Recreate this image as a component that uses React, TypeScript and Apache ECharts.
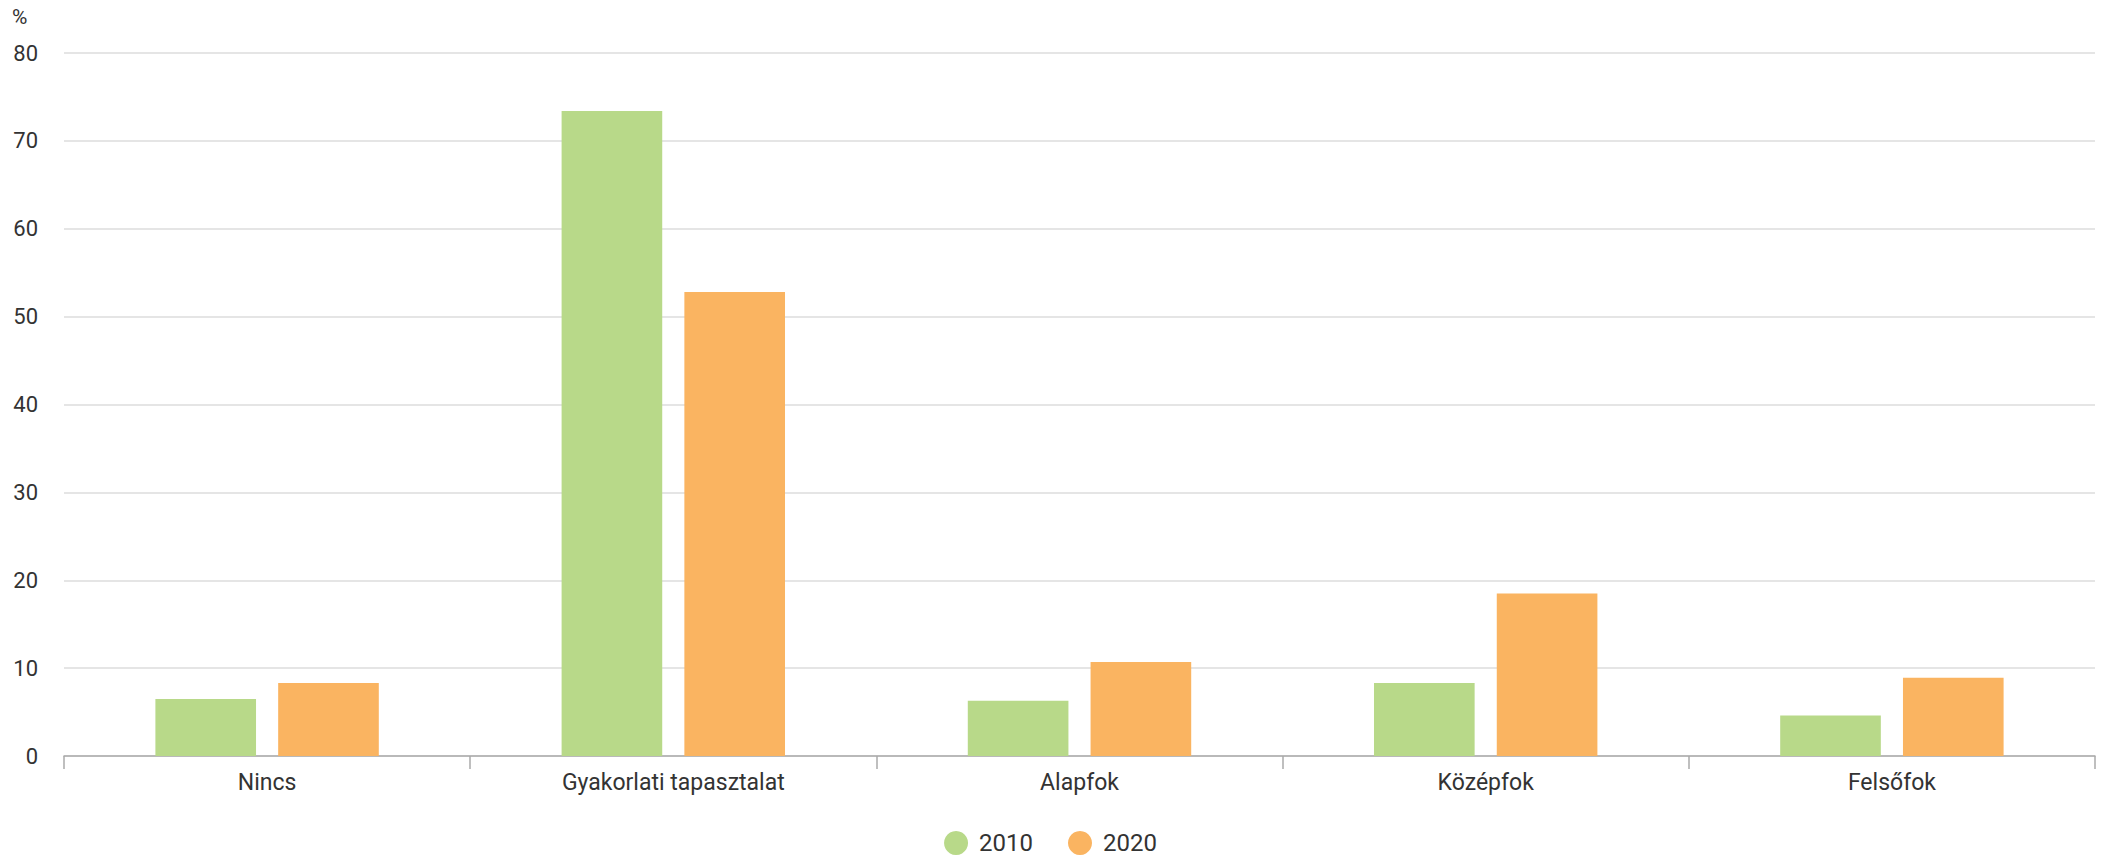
import React, { useEffect, useRef } from "react";
import * as echarts from "echarts";

const categories = ["Nincs", "Gyakorlati tapasztalat", "Alapfok", "Középfok", "Felsőfok"];
const seriesNames = ["2010", "2020"];
const values2010 = [6.5, 73.4, 6.3, 8.3, 4.6];
const values2020 = [8.3, 52.8, 10.7, 18.5, 8.9];
const colors = ["#b8d989", "#fab461"];

export default function App() {
  const ref = useRef<HTMLDivElement>(null);
  useEffect(() => {
    document.body.style.margin = "0";
    if (!ref.current) return;
    const chart = echarts.init(ref.current, null, { renderer: "svg" });
    const font = "Roboto";
    chart.setOption({
      animation: false,
      textStyle: { fontFamily: font },
      grid: { left: 64, right: 6, top: 53, bottom: 103, containLabel: false },
      graphic: [
        {
          type: "text",
          left: 12,
          top: 6,
          style: { text: "%", fontSize: 21, fill: "#333", fontFamily: font },
        },
      ],
      legend: {
        top: 826,
        left: "center",
        icon: "circle",
        itemWidth: 36,
        itemHeight: 24,
        itemGap: 35,
        textStyle: { fontSize: 24, color: "#333", fontFamily: font },
        data: seriesNames,
      },
      xAxis: {
        type: "category",
        data: categories,
        axisLine: { lineStyle: { color: "#aaaaaa", width: 1.5 } },
        axisTick: { show: true, length: 13, lineStyle: { color: "#aaaaaa", width: 1.5 } },
        axisLabel: { fontSize: 23, color: "#333", margin: 15, fontFamily: font },
      },
      yAxis: {
        type: "value",
        min: 0,
        max: 80,
        interval: 10,
        axisLine: { show: false },
        axisTick: { show: false },
        axisLabel: { fontSize: 22, color: "#333", margin: 26, fontFamily: font },
        splitLine: { lineStyle: { color: "#dddddd", width: 1.5 } },
      },
      series: [
        {
          name: seriesNames[0],
          type: "bar",
          data: values2010,
          itemStyle: { color: colors[0] },
          barCategoryGap: "45%",
          barGap: "22%",
        },
        {
          name: seriesNames[1],
          type: "bar",
          data: values2020,
          itemStyle: { color: colors[1] },
          barCategoryGap: "45%",
          barGap: "22%",
        },
      ],
    });
    return () => chart.dispose();
  }, []);
  return <div ref={ref} style={{ width: 2101, height: 859 }} />;
}
